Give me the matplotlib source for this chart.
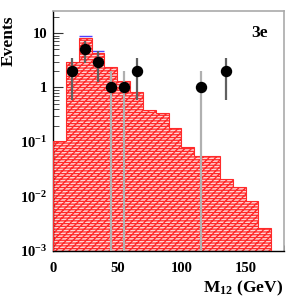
import numpy as np
import matplotlib; matplotlib.use("Agg")
import matplotlib.pyplot as plt

plt.rcParams["font.family"] = ["Liberation Serif", "DejaVu Serif"]
plt.rcParams["font.weight"] = "bold"
plt.rcParams["mathtext.fontset"] = "custom"
plt.rcParams["mathtext.rm"] = "Liberation Serif:bold"
plt.rcParams["mathtext.it"] = "Liberation Serif:bold"
plt.rcParams["mathtext.bf"] = "Liberation Serif:bold"
plt.rcParams["hatch.linewidth"] = 0.9

# background expectation, 10 GeV bins from 0 to 170
bin_edges = np.arange(0, 171, 10)
bkg = [0.103, 2.88, 8.07, 4.37, 2.39, 1.29, 0.83, 0.387, 0.347, 0.18,
       0.082, 0.055, 0.054, 0.021, 0.0148, 0.0082, 0.0026]
# small extra component on top, drawn as the blue outline
extra = [0, 0, 0.6, 0.23, 0, 0, 0, 0, 0, 0, 0, 0, 0, 0, 0, 0, 0]

# observed events
data_x = [15, 25, 35, 45, 55, 65, 115, 135]
data_n = [2, 5, 3, 1, 1, 2, 1, 2]

ymin, ymax = 1e-3, 25
base = ymin * 0.5

fig = plt.figure(figsize=(3, 3), dpi=100)
ax = fig.add_axes([0.177, 0.164, 0.770, 0.798])
ax.set_yscale("log")
ax.set_xlim(0, 180)
ax.set_ylim(ymin, ymax)

bkg = np.array(bkg)
extra = np.array(extra)
tot = bkg + extra
m = extra > 0
ax.hlines(tot[m], bin_edges[:-1][m], bin_edges[1:][m], colors="#5040ff", lw=1.0, zorder=1)
ax.stairs(bkg, bin_edges, baseline=base, fill=True, facecolor="#ffd6d6",
          edgecolor="#ff2a2a", hatch="/////------", lw=0, zorder=2)
ax.stairs(bkg, bin_edges, baseline=base, color="#ff2a2a", lw=0.8, zorder=3)

# error bars sqrt(n); lower edge runs to the axis for n=1
n = np.array(data_n, dtype=float)
err = np.sqrt(n)
lo = np.maximum(n - err, base)
hi = n + err
cols = ["#b0b0b0" if v == 1 else "#606060" for v in data_n]
ax.vlines(data_x, lo, hi, colors=cols, lw=1.6, zorder=4)
ax.plot(data_x, data_n, "o", color="black", ms=7.2, zorder=5)

for s in ["top", "right"]:
    ax.spines[s].set_color("#aaaaaa")
    ax.spines[s].set_linewidth(1.2)
for s in ["left", "bottom"]:
    ax.spines[s].set_color("black")
    ax.spines[s].set_linewidth(1.0)

ax.set_xticks([0, 50, 100, 150])
ax.set_xticks(np.arange(0, 181, 10), minor=True)
ax.set_yticks([1e-3, 1e-2, 1e-1, 1, 10])
ax.set_yticklabels([r"$10^{-3}$", r"$10^{-2}$", r"$10^{-1}$", "1", "10"])
ax.tick_params(axis="both", which="both", direction="in", top=False, right=False,
               labelsize=10.5, color="#333333")
ax.tick_params(axis="both", which="major", length=7, width=0.8)
ax.tick_params(axis="both", which="minor", length=4, width=0.6)
ax.tick_params(axis="x", pad=8)
ax.tick_params(axis="y", pad=4)

ax.text(0.93, 0.91, "3e", transform=ax.transAxes, ha="right", va="center",
        fontsize=12.5, fontweight="bold")
fig.text(0.945, 0.04, r"$\mathrm{M}_{12}$ (GeV)", ha="right", va="center", fontsize=12.5)
fig.text(0.028, 0.865, "Events", rotation=90, ha="center", va="center", fontsize=12.5)

fig.savefig("out.png", dpi=100)
